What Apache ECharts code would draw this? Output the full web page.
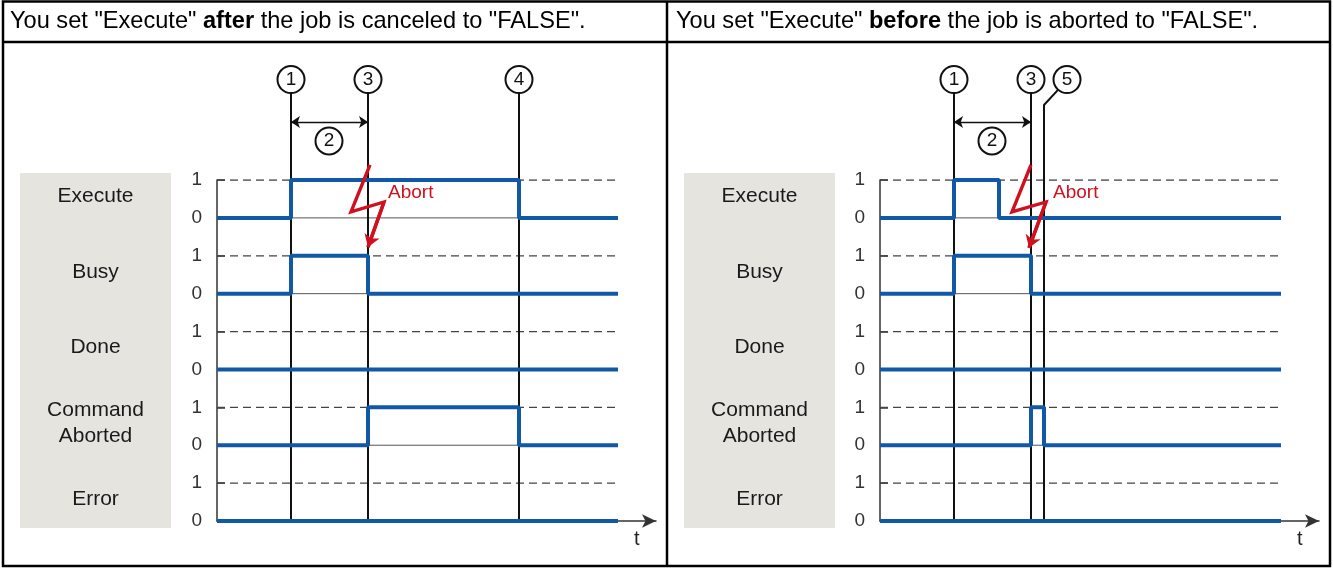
<!DOCTYPE html>
<html>
<head>
<meta charset="utf-8">
<script src="https://cdn.jsdelivr.net/npm/echarts@6/dist/echarts.min.js"></script>
<style>
  html, body { margin: 0; padding: 0; background: #fff; }
  #main { width: 1333px; height: 568px; }
</style>
</head>
<body>
<div id="main"></div>
<script>
// signal rows, top to bottom
var signalNames = ['Execute', 'Busy', 'Done', 'Command\nAborted', 'Error'];
var levelLabels = ['0', '1'];

// t axis (arbitrary units)
var tMax = 43.9;

// left panel: Execute reset after abort
var leftExecute = [[0, 0], [7.4, 1], [30.2, 0], [40.1, 0]];
var leftBusy = [[0, 0], [7.4, 1], [15.1, 0], [40.1, 0]];
var leftDone = [[0, 0], [40.1, 0]];
var leftAborted = [[0, 0], [15.1, 1], [30.2, 0], [40.1, 0]];
var leftError = [[0, 0], [40.1, 0]];
var leftMarkers = [['1', 7.4], ['3', 15.1], ['4', 30.2]];
var leftBolt = [[15.3, 1.40], [13.4, 0.16], [16.7, 0.42], [15.1, -0.77]];
var leftAbortText = [17.1, 0.66];

// right panel: Execute reset before abort
var rightExecute = [[0, 0], [7.4, 1], [11.9, 0], [40.1, 0]];
var rightBusy = [[0, 0], [7.4, 1], [15.1, 0], [40.1, 0]];
var rightDone = [[0, 0], [40.1, 0]];
var rightAborted = [[0, 0], [15.1, 1], [16.4, 0], [40.1, 0]];
var rightError = [[0, 0], [40.1, 0]];
var rightMarkers = [['1', 7.4], ['3', 15.1]];
var rightLeader = [[16.4, -8], [16.4, 2.98], [17.8, 3.38]];
var rightLeaderCircle = ['5', 18.7];
var rightBolt = [[15.1, 1.40], [13.2, 0.16], [16.6, 0.42], [14.9, -0.79]];
var rightAbortText = [17.3, 0.66];

// duration (2) between marker 1 and marker 3
var spanTimes = [7.4, 15.1];
var spanLabelT = 11.2;

var circleLevel = 3.65;
var spanLevel = 2.53;
var spanLabelLevel = 2.03;

var panels = [
  { head: ['You set "Execute" ', 'after', ' the job is canceled to "FALSE".'],
    signals: [leftExecute, leftBusy, leftDone, leftAborted, leftError],
    markers: leftMarkers, bolt: leftBolt, abort: leftAbortText,
    gridLeft: 217, boxX: 20, headX: 10 },
  { head: ['You set "Execute" ', 'before', ' the job is aborted to "FALSE".'],
    signals: [rightExecute, rightBusy, rightDone, rightAborted, rightError],
    markers: rightMarkers, bolt: rightBolt, abort: rightAbortText,
    gridLeft: 880, boxX: 684, headX: 676 }
];

var FONT = 'Liberation Sans, Arial, sans-serif';
var BLUE = '#1158a6';
var RED = '#d0101e';

var grids = [], xAxes = [], yAxes = [], series = [];

panels.forEach(function (p, pi) {
  grids.push({ left: p.gridLeft, top: 180, width: 439, height: 341 });
  xAxes.push({
    gridIndex: pi, type: 'value', min: 0, max: tMax,
    axisLine: { show: true, onZero: false, symbol: ['none', 'arrow'], symbolSize: [10, 14], lineStyle: { color: '#333', width: 1.5 } },
    axisTick: { show: false }, axisLabel: { show: false }, splitLine: { show: false },
    name: 't', nameLocation: 'end', nameGap: -22,
    nameTextStyle: { fontFamily: FONT, fontSize: 20, color: '#222', verticalAlign: 'top', padding: [8, 0, 0, 0] }
  });
  yAxes.push({
    gridIndex: pi, type: 'value', min: -8, max: 1, interval: 1,
    axisLine: { show: true, lineStyle: { color: '#333', width: 1.5 } },
    axisTick: { show: true, inside: true, length: 8, lineStyle: { color: '#333', width: 1.5 } },
    axisLabel: {
      fontFamily: FONT, fontSize: 19, color: '#333', margin: 15,
      formatter: function (v) { return levelLabels[((v % 2) + 2) % 2]; }
    },
    splitLine: { show: false }
  });

  // level guides: thin solid at 0, dashed at 1
  signalNames.forEach(function (name, i) {
    var off = -2 * i;
    if (i < signalNames.length - 1) {
      series.push({
        type: 'line', xAxisIndex: pi, yAxisIndex: pi, silent: true, showSymbol: false, z: 2,
        data: [[0, off], [40.1, off]],
        lineStyle: { color: '#555', width: 1 }
      });
    }
    series.push({
      type: 'line', xAxisIndex: pi, yAxisIndex: pi, silent: true, showSymbol: false, z: 2,
      data: [[0, off + 1], [40.1, off + 1]],
      lineStyle: { color: '#444', width: 1.3, type: [8, 5] }
    });
  });

  // marker lines
  series.push({
    type: 'lines', coordinateSystem: 'cartesian2d', xAxisIndex: pi, yAxisIndex: pi,
    clip: false, silent: true, z: 4,
    lineStyle: { color: '#111', width: 2, opacity: 1 },
    data: p.markers.map(function (m) { return { coords: [[m[1], -8], [m[1], circleLevel]] }; })
  });

  // span arrow (2)
  series.push({
    type: 'lines', coordinateSystem: 'cartesian2d', xAxisIndex: pi, yAxisIndex: pi,
    clip: false, silent: true, z: 4, symbol: ['arrow', 'arrow'], symbolSize: 9,
    lineStyle: { color: '#111', width: 1.4, opacity: 1 },
    data: [{ coords: [[spanTimes[0], spanLevel], [spanTimes[1], spanLevel]] }]
  });

  // signals
  p.signals.forEach(function (sig, i) {
    series.push({
      type: 'line', xAxisIndex: pi, yAxisIndex: pi, step: 'end', showSymbol: false, z: 5,
      data: sig.map(function (d) { return [d[0], d[1] - 2 * i]; }),
      lineStyle: { color: BLUE, width: 4 }
    });
  });

  // lightning bolt
  series.push({
    type: 'line', xAxisIndex: pi, yAxisIndex: pi, showSymbol: false, clip: false, z: 7,
    data: p.bolt, lineStyle: { color: RED, width: 3.4, join: 'miter' }
  });
  series.push({
    type: 'lines', coordinateSystem: 'cartesian2d', xAxisIndex: pi, yAxisIndex: pi,
    clip: false, silent: true, z: 7, symbol: ['none', 'arrow'], symbolSize: 12,
    lineStyle: { color: RED, width: 3.4, opacity: 1 },
    data: [{ coords: [p.bolt[2], p.bolt[3]] }]
  });

  // numbered circles
  var circles = p.markers.map(function (m) { return { name: m[0], value: [m[1], circleLevel] }; });
  circles.push({ name: '2', value: [spanLabelT, spanLabelLevel] });
  if (pi === 1) circles.push({ name: rightLeaderCircle[0], value: [rightLeaderCircle[1], circleLevel] });
  series.push({
    type: 'scatter', xAxisIndex: pi, yAxisIndex: pi, clip: false, silent: true, z: 8,
    symbolSize: 27, data: circles,
    itemStyle: { color: '#fff', borderColor: '#111', borderWidth: 2, opacity: 1 },
    label: { show: true, position: 'inside', formatter: '{b}', fontFamily: FONT, fontSize: 19, color: '#111' }
  });
});

// leader line to (5)
series.push({
  type: 'line', xAxisIndex: 1, yAxisIndex: 1, showSymbol: false, clip: false, z: 4,
  data: rightLeader, lineStyle: { color: '#111', width: 2 }
});

var chart = echarts.init(document.getElementById('main'));
chart.setOption({
  animation: false,
  grid: grids, xAxis: xAxes, yAxis: yAxes, series: series
});

// frame, label boxes and texts
var g = [];
g.push({ type: 'rect', shape: { x: 3, y: 1.5, width: 1327, height: 564.5 }, style: { fill: 'none', stroke: '#000', lineWidth: 2.5 }, z: 100 });
g.push({ type: 'line', shape: { x1: 3, y1: 42, x2: 1330, y2: 42 }, style: { stroke: '#000', lineWidth: 2.5 }, z: 100 });
g.push({ type: 'line', shape: { x1: 667, y1: 1.5, x2: 667, y2: 566 }, style: { stroke: '#000', lineWidth: 2.5 }, z: 100 });

panels.forEach(function (p, pi) {
  g.push({ type: 'rect', shape: { x: p.boxX, y: 173, width: 151, height: 355 }, style: { fill: '#e6e4df' }, z: -10 });
  g.push({
    type: 'text', x: p.headX, y: 21, z: 100,
    style: {
      text: '{n|' + p.head[0] + '}{b|' + p.head[1] + '}{n|' + p.head[2] + '}',
      verticalAlign: 'middle',
      rich: {
        n: { fontFamily: FONT, fontSize: 23.6, color: '#000' },
        b: { fontFamily: FONT, fontSize: 23.6, fontWeight: 'bold', color: '#000' }
      }
    }
  });
  signalNames.forEach(function (name, i) {
    var pt = chart.convertToPixel({ gridIndex: pi }, [0, -2 * i + 0.5]);
    g.push({
      type: 'text', x: p.boxX + 75.5, y: pt[1] - 3, z: 10,
      style: { text: name, fontFamily: FONT, fontSize: 21, lineHeight: 26, fill: '#1a1a1a', align: 'center', verticalAlign: 'middle' }
    });
  });
  var ap = chart.convertToPixel({ gridIndex: pi }, p.abort);
  g.push({
    type: 'text', x: ap[0], y: ap[1], z: 10,
    style: { text: 'Abort', fontFamily: FONT, fontSize: 19, fill: RED, align: 'left', verticalAlign: 'middle' }
  });
});

chart.setOption({ graphic: g });
</script>
</body>
</html>
